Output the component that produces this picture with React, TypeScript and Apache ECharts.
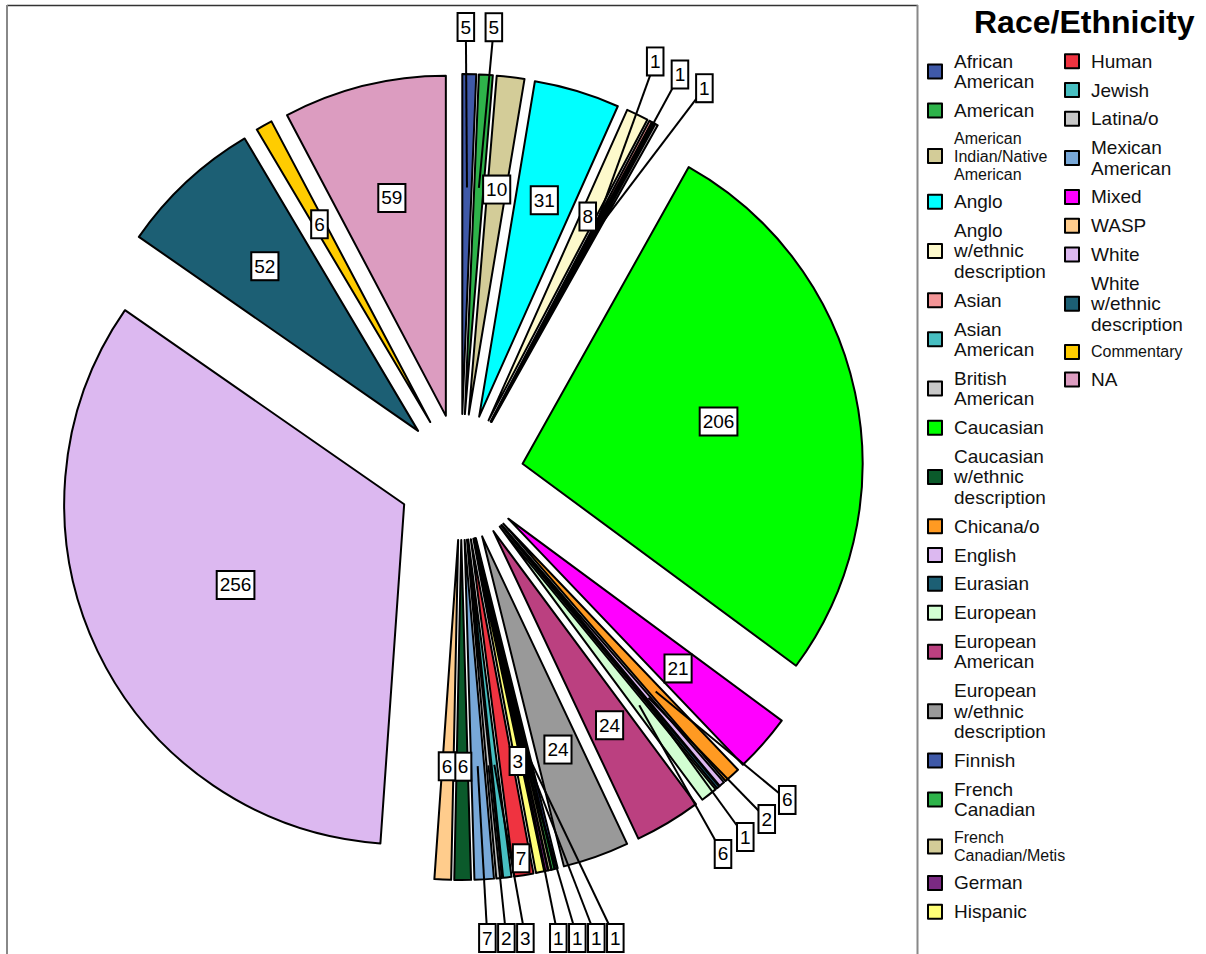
import React, { useEffect, useRef } from 'react';
import * as echarts from 'echarts';

// ---- data (clockwise from 12 o'clock, as drawn) ----
const categories = [
  'African American', 'American', 'American Indian/Native American', 'Anglo',
  'Anglo w/ethnic description', 'Asian', 'Asian American', 'British American',
  'Caucasian', 'Mixed', 'Chicana/o', 'English', 'Eurasian', 'European',
  'European American', 'European w/ethnic description', 'Finnish', 'French Canadian',
  'French Canadian/Metis', 'German', 'Hispanic', 'Human', 'Jewish', 'Latina/o',
  'Mexican American', 'Caucasian w/ethnic description', 'WASP', 'White',
  'White w/ethnic description', 'Commentary', 'NA',
];
const counts = [
  5, 5, 10, 31, 8, 1, 1, 1, 206, 21, 6, 2, 1, 6, 24, 24, 1, 1, 1, 1, 3, 7, 3, 2, 7, 6, 6, 256, 52, 6, 59,
];
const colors = [
  '#3f59a8', '#2eb34a', '#d3cc98', '#00ffff', '#fdf9cb', '#f39597', '#47bec1', '#c8c8c8',
  '#00ff00', '#ff00ff', '#ff9a22', '#dcb8f0', '#1c5f74', '#d2fed2', '#bb4080', '#999999',
  '#3f59a8', '#2eb34a', '#d3cc98', '#7b2a82', '#ffff77', '#ef3340', '#47bec1', '#c8c8c8',
  '#78a8d8', '#0b5a2b', '#ffcc8c', '#dcb8f0', '#1c5f74', '#ffcc00', '#dc9cc0',
];
// legend columns, as listed in the key
const legendColumn1 = [
  'African American', 'American', 'American Indian/Native American', 'Anglo',
  'Anglo w/ethnic description', 'Asian', 'Asian American', 'British American', 'Caucasian',
  'Caucasian w/ethnic description', 'Chicana/o', 'English', 'Eurasian', 'European',
  'European American', 'European w/ethnic description', 'Finnish', 'French Canadian',
  'French Canadian/Metis', 'German', 'Hispanic',
];
const legendColumn2 = [
  'Human', 'Jewish', 'Latina/o', 'Mexican American', 'Mixed', 'WASP', 'White',
  'White w/ethnic description', 'Commentary', 'NA',
];
// how legend names are wrapped
const legendText: Record<string, string> = {
  'African American': 'African\nAmerican',
  'American Indian/Native American': '{s|American\nIndian/Native\nAmerican}',
  'Anglo w/ethnic description': 'Anglo\nw/ethnic\ndescription',
  'Asian American': 'Asian\nAmerican',
  'British American': 'British\nAmerican',
  'Caucasian w/ethnic description': 'Caucasian\nw/ethnic\ndescription',
  'European American': 'European\nAmerican',
  'European w/ethnic description': 'European\nw/ethnic\ndescription',
  'French Canadian': 'French\nCanadian',
  'French Canadian/Metis': '{s|French\nCanadian/Metis}',
  'Mexican American': 'Mexican\nAmerican',
  'White w/ethnic description': 'White\nw/ethnic\ndescription',
  'Commentary': '{s|Commentary}',
};
// slices whose value label sits outside, on a leader line
const outsideLabels = new Set([
  'African American', 'American', 'Asian', 'Asian American', 'British American',
  'Chicana/o', 'English', 'Eurasian', 'European', 'Finnish', 'French Canadian',
  'French Canadian/Metis', 'German', 'Jewish', 'Latina/o', 'Mexican American',
]);

// ---- geometry / style ----
const CX = 461;
const CY = 477;
const RADIUS = 340;
const EXPLODE = 63;
const OUT_R = 458;
const MIN_SEP = 28;
const ROW_SEP = 19;
const FONT = 'Liberation Sans, Arial, Helvetica, sans-serif';

// value labels placed at each (exploded) slice's centroid, repelled when crowded
function computeLabelLayout() {
  const total = counts.reduce((a, b) => a + b, 0);
  let cum = 0;
  const geo = counts.map((v) => {
    const s = (cum / total) * Math.PI * 2;
    cum += v;
    const e = (cum / total) * Math.PI * 2;
    return { mid: (s + e) / 2, span: e - s };
  });
  const at = (a: number, r: number) => [CX + Math.sin(a) * r, CY - Math.cos(a) * r];
  const anchor = geo.map((g) => at(g.mid, EXPLODE + (4 * RADIUS * Math.sin(g.span / 2)) / (3 * g.span)));
  const pos = anchor.map((p) => [p[0], p[1]]);
  // inside labels
  let prev = -1;
  categories.forEach((name, i) => {
    if (outsideLabels.has(name)) return;
    if (prev >= 0) {
      const dist = Math.hypot(pos[i][0] - pos[prev][0], pos[i][1] - pos[prev][1]);
      if (dist < 13) {
        pos[i] = at(geo[i].mid, EXPLODE + RADIUS - 17);
      } else if (dist < 16) {
        const m = (geo[i].mid + geo[prev].mid) / 2;
        const t = [Math.cos(m), Math.sin(m)];
        const d = (16 - dist) / 2;
        pos[prev][0] -= t[0] * d;
        pos[prev][1] -= t[1] * d;
        pos[i][0] += t[0] * d;
        pos[i][1] += t[1] * d;
      }
    }
    prev = i;
  });
  // outside labels
  const out = categories.map((_, i) => i).filter((i) => outsideLabels.has(categories[i]));
  const row: number[] = [];
  const free: number[] = [];
  out.forEach((i) => {
    pos[i] = at(geo[i].mid, OUT_R);
    if (pos[i][1] > 880) {
      pos[i][1] = 938;
      row.push(i);
    } else {
      free.push(i);
    }
    if (pos[i][1] < 27) pos[i][1] = 27;
  });
  // bottom row: sweep left to right
  row.sort((a, b) => pos[a][0] - pos[b][0]);
  for (let k = 1; k < row.length; k++) {
    pos[row[k]][0] = Math.max(pos[row[k]][0], pos[row[k - 1]][0] + ROW_SEP);
  }
  // the rest: push apart along the circle's tangent
  for (let it = 0; it < 400; it++) {
    for (let k = 0; k + 1 < free.length; k++) {
      const a = free[k];
      const b = free[k + 1];
      const vx = pos[b][0] - pos[a][0];
      const vy = pos[b][1] - pos[a][1];
      if (Math.hypot(vx, vy) < MIN_SEP) {
        const m = (geo[a].mid + geo[b].mid) / 2;
        const t = [Math.cos(m), Math.sin(m)];
        const s = vx * t[0] + vy * t[1];
        const d = (MIN_SEP - s) / 2;
        pos[a][0] -= t[0] * d;
        pos[a][1] -= t[1] * d;
        pos[b][0] += t[0] * d;
        pos[b][1] += t[1] * d;
      }
    }
  }
  free.forEach((i) => {
    if (pos[i][1] < 27) pos[i][1] = 27;
  });
  return { anchor, pos };
}

export default function App() {
  const ref = useRef<HTMLDivElement>(null);
  useEffect(() => {
    if (!ref.current) return;
    const chart = echarts.init(ref.current, undefined, { renderer: 'svg' });
    const { anchor, pos } = computeLabelLayout();

    const data = categories.map((name, i) => ({
      name,
      value: counts[i],
      selected: true,
      itemStyle: { color: colors[i] },
    }));

    const labelGraphics: any[] = [];
    categories.forEach((name, i) => {
      if (outsideLabels.has(name)) {
        labelGraphics.push({
          type: 'line',
          z: 20,
          silent: true,
          shape: { x1: anchor[i][0], y1: anchor[i][1], x2: pos[i][0], y2: pos[i][1] },
          style: { stroke: '#000', lineWidth: 2 },
        });
      }
    });
    categories.forEach((name, i) => {
      labelGraphics.push({
        type: 'text',
        z: 21,
        silent: true,
        x: pos[i][0],
        y: pos[i][1],
        style: {
          text: String(counts[i]),
          fill: '#000',
          fontSize: 19,
          fontFamily: FONT,
          lineHeight: 21,
          align: 'center',
          verticalAlign: 'middle',
          backgroundColor: '#fff',
          borderColor: '#000',
          borderWidth: 2,
          padding: [3, 2, 2, 2],
        },
      });
    });

    const legendBase = {
      orient: 'vertical',
      selectedMode: false,
      padding: 0,
      itemGap: 8.3,
      itemWidth: 14,
      itemHeight: 14,
      icon: 'rect',
      itemStyle: { borderColor: '#000', borderWidth: 2 },
      formatter: (name: string) => legendText[name] || name,
      textStyle: {
        fontFamily: FONT,
        fontSize: 19,
        lineHeight: 20.5,
        color: '#111',
        padding: [0, 0, 0, 7],
        rich: {
          s: { fontFamily: FONT, fontSize: 16, lineHeight: 18, color: '#111' },
        },
      },
    };

    chart.setOption({
      animation: false,
      backgroundColor: '#fff',
      title: {
        text: 'Race/Ethnicity',
        left: 974,
        top: 6,
        padding: 0,
        textStyle: { fontFamily: FONT, fontSize: 32, fontWeight: 'bold', color: '#000' },
      },
      legend: [
        { ...legendBase, data: legendColumn1, left: 927, top: 51 },
        { ...legendBase, data: legendColumn2, left: 1064, top: 51 },
      ],
      graphic: [
        { type: 'line', silent: true, shape: { x1: 7, y1: 5.5, x2: 918, y2: 5.5 }, style: { stroke: '#333', lineWidth: 1.5 } },
        { type: 'line', silent: true, shape: { x1: 7, y1: 5, x2: 7, y2: 960 }, style: { stroke: '#888', lineWidth: 2 } },
        { type: 'line', silent: true, shape: { x1: 917.5, y1: 5, x2: 917.5, y2: 960 }, style: { stroke: '#888', lineWidth: 2 } },
        ...labelGraphics,
      ],
      series: [
        {
          type: 'pie',
          center: [CX, CY],
          radius: [0, RADIUS],
          startAngle: 90,
          clockwise: true,
          selectedMode: 'multiple',
          selectedOffset: EXPLODE,
          avoidLabelOverlap: false,
          emphasis: { disabled: true },
          itemStyle: { borderColor: '#000', borderWidth: 2 },
          label: { show: false },
          labelLine: { show: false },
          data,
        },
      ],
    });
    return () => chart.dispose();
  }, []);
  return (
    <div
      ref={ref}
      style={{ position: 'fixed', left: 0, top: 0, width: 1206, height: 954, background: '#fff' }}
    />
  );
}
